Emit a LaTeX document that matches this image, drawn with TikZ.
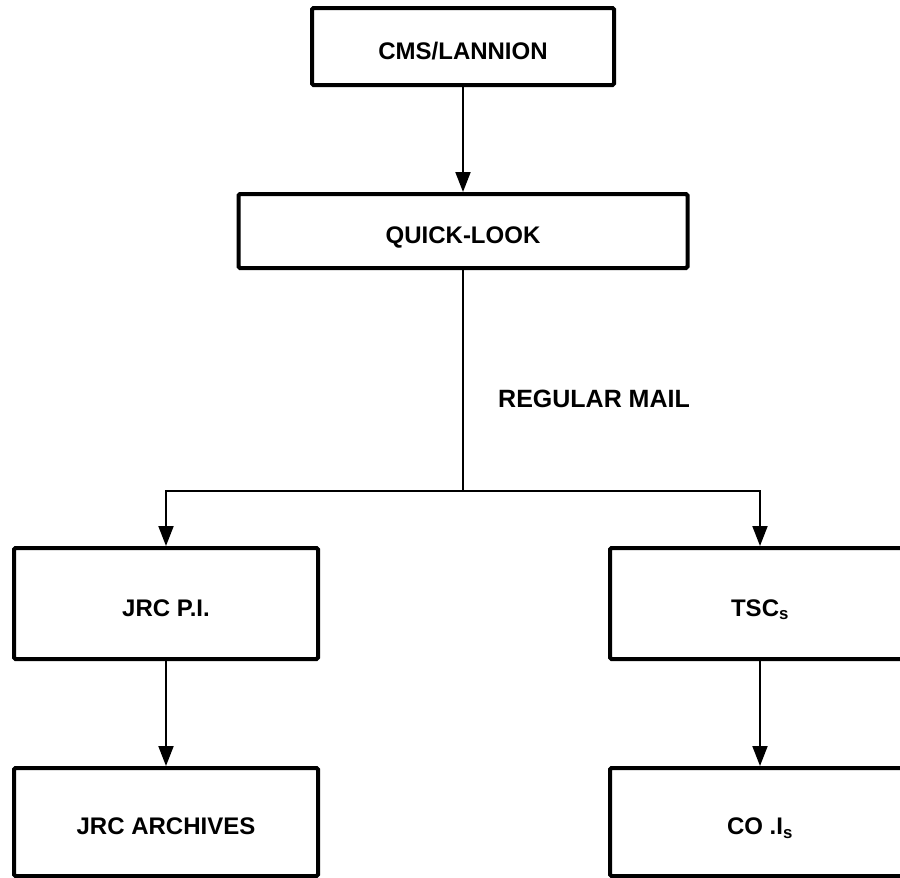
\documentclass[tikz,border=0pt]{standalone}
\usepackage{fontspec}
\setmainfont{Liberation Sans}
\usetikzlibrary{arrows.meta}
\begin{document}
\begin{tikzpicture}[x=1pt,y=-1pt,
  box/.style={draw, line width=4pt, rounded corners=1.5pt, inner sep=0pt,
    text height=25pt, text depth=0pt,
    font=\fontsize{24}{28}\selectfont\bfseries},
  link/.style={line width=2pt},
  arr/.style={line width=2pt, -{Triangle[length=20pt,width=15pt]}},
  lbl/.style={font=\fontsize{25}{29}\selectfont\bfseries, inner sep=0pt}]
\useasboundingbox (0,0) rectangle (900,878);
\clip (0,0) rectangle (900,878);
\node[box, minimum width=302pt, minimum height=77pt] (cms) at (463,46.5) {CMS/LANNION};
\node[box, minimum width=449pt, minimum height=74pt] (ql) at (463,231) {QUICK-LOOK};
\node[box, minimum width=304pt, minimum height=111pt] (jrcpi) at (166,603.5) {JRC P.I.};
\node[box, minimum width=300pt, minimum height=111pt] (tsc) at (760,603.5) {TSC\textsubscript{s}};
\node[box, minimum width=304pt, minimum height=108pt] (jrca) at (166,822) {JRC ARCHIVES};
\node[box, minimum width=300pt, minimum height=108pt] (coi) at (760,822) {CO .I\textsubscript{s}};
\node[lbl, anchor=west] (mail) at (498,399) {REGULAR MAIL};
\coordinate (split) at (463,491);
\draw[arr] (cms.south) -- (ql.north);
\draw[link] (ql.south) -- (split);
\draw[arr] (split) -| (jrcpi.north);
\draw[arr] (split) -| (tsc.north);
\draw[arr] (jrcpi.south) -- (jrca.north);
\draw[arr] (tsc.south) -- (coi.north);
\end{tikzpicture}
\end{document}
